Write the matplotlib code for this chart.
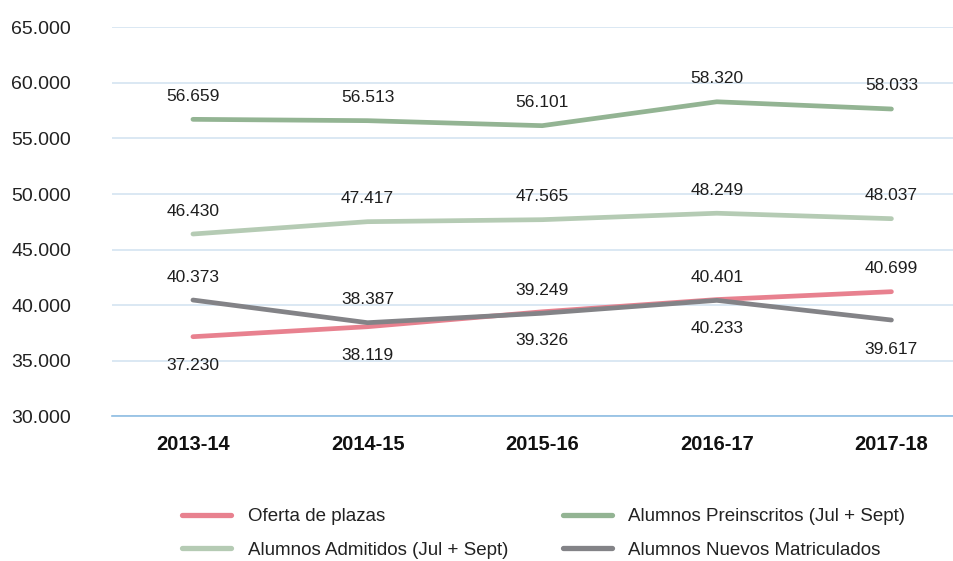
import matplotlib
matplotlib.use("Agg")
import matplotlib.pyplot as plt
import numpy as np

# cursos academicos
cursos = ['2013-14', '2014-15', '2015-16', '2016-17', '2017-18']

# valores tal y como se ven dibujados
oferta = [37160, 38060, 39400, 40500, 41210]
preinscritos = [56720, 56600, 56150, 58300, 57650]
admitidos = [46400, 47510, 47690, 48270, 47780]
matriculados = [40460, 38420, 39270, 40430, 38660]

# etiquetas de datos
oferta_lbl = ['37.230', '38.119', '39.326', '40.233', '40.699']
preinscritos_lbl = ['56.659', '56.513', '56.101', '58.320', '58.033']
admitidos_lbl = ['46.430', '47.417', '47.565', '48.249', '48.037']
matriculados_lbl = ['40.373', '38.387', '39.249', '40.401', '39.617']

yticks = np.arange(30000, 65001, 5000)

plt.rcParams['font.family'] = ['Liberation Sans', 'DejaVu Sans']

fig = plt.figure(figsize=(9.54, 5.61), dpi=100)
ax = fig.add_axes([0.1174, 0.258, 0.882, 0.6933])

x = np.arange(len(cursos))

series = [
    ('Oferta de plazas', oferta, oferta_lbl, '#e8818f', [1, 1, 1, 1, -1]),
    ('Alumnos Admitidos (Jul + Sept)', admitidos, admitidos_lbl, '#b5cbb4', [-1] * 5),
    ('Alumnos Preinscritos (Jul + Sept)', preinscritos, preinscritos_lbl, '#93b493', [-1] * 5),
    ('Alumnos Nuevos Matriculados', matriculados, matriculados_lbl, '#838387', [-1, -1, -1, -1, 1]),
]

for name, vals, lbls, col, side in series:
    ax.plot(x, vals, color=col, linewidth=3.4, solid_capstyle='round',
            solid_joinstyle='round', label=name, zorder=3)
    for xi, v, t, s in zip(x, vals, lbls, side):
        off = -23 if s < 0 else 29
        ax.annotate(t, (xi, v), xytext=(0, -off), textcoords='offset pixels',
                    ha='center', va='center', fontsize=12.5, color='#1e1e1e')

ax.set_xlim(-0.4635, 4.355)
ax.set_ylim(30000, 65000)
ax.set_yticks(yticks)
ax.set_yticklabels(['{:,.0f}'.format(v).replace(',', '.') for v in yticks])
ax.set_xticks(x)
ax.set_xticklabels(cursos, fontweight='bold')

ax.grid(axis='y', color='#dbe8f3', linewidth=1.4)
ax.set_axisbelow(True)
for sp in ['top', 'right', 'left']:
    ax.spines[sp].set_visible(False)
ax.spines['bottom'].set_color('#8fbde3')
ax.spines['bottom'].set_linewidth(1.2)
ax.tick_params(axis='y', length=0, pad=29.5, labelsize=14, labelcolor='#222222')
ax.tick_params(axis='x', length=0, pad=13.5, labelsize=14.5, labelcolor='#111111')

h, l = ax.get_legend_handles_labels()
leg = fig.legend(h, l, loc='center', bbox_to_anchor=(0.57, 0.049), ncol=2, frameon=False,
                 prop={'size': 13.5},
                 handlelength=2.6, handletextpad=0.9, columnspacing=2.92, labelspacing=0.86)
for lh in leg.get_lines():
    lh.set_linewidth(3.8)
    lh.set_solid_capstyle('round')
for t in leg.get_texts():
    t.set_color('#222222')

plt.savefig('out.png', dpi=100)
